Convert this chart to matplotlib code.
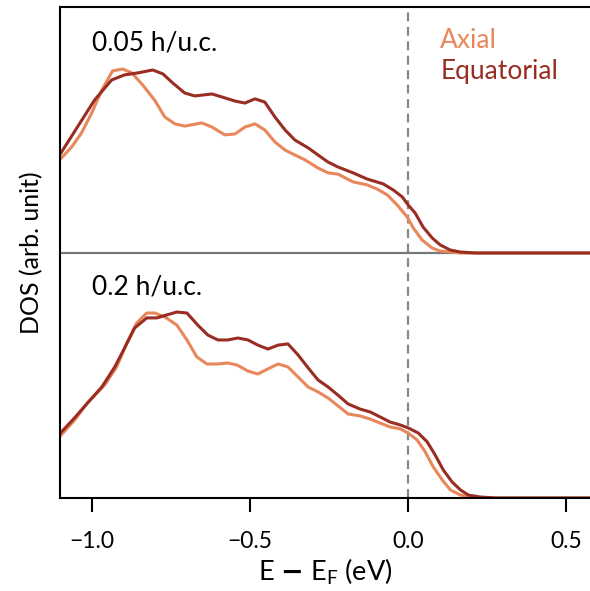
import numpy as np
import matplotlib
matplotlib.use('Agg')
import matplotlib.pyplot as plt

plt.rcParams['font.family'] = ['Lato', 'DejaVu Sans']
plt.rcParams['mathtext.fontset'] = 'custom'
plt.rcParams['mathtext.rm'] = 'Lato'
plt.rcParams['axes.unicode_minus'] = True

# 0.05 h/u.c. (upper panel)
e_eq_05 = [-1.101, -0.991, -0.937, -0.896, -0.854, -0.807, -0.775, -0.744, -0.706, -0.674,
           -0.620, -0.589, -0.547, -0.516, -0.484, -0.453, -0.421, -0.389, -0.358, -0.316,
           -0.285, -0.253, -0.222, -0.174, -0.130, -0.079, -0.047, -0.019, 0.000, 0.022,
           0.047, 0.076, 0.101, 0.133, 0.165, 0.212, 0.58]
dos_eq_05 = [0.400, 0.624, 0.706, 0.727, 0.735, 0.747, 0.731, 0.694, 0.653, 0.641,
             0.649, 0.637, 0.620, 0.612, 0.629, 0.616, 0.555, 0.502, 0.461, 0.429,
             0.400, 0.371, 0.351, 0.327, 0.302, 0.282, 0.257, 0.229, 0.196, 0.163,
             0.106, 0.061, 0.033, 0.012, 0.004, 0.0, 0.0]

e_ax_05 = [-1.101, -1.063, -1.032, -1.000, -0.968, -0.934, -0.902, -0.873, -0.839, -0.801,
           -0.769, -0.737, -0.706, -0.652, -0.620, -0.579, -0.547, -0.516, -0.484, -0.453,
           -0.421, -0.389, -0.358, -0.326, -0.285, -0.253, -0.222, -0.174, -0.130, -0.098,
           -0.066, -0.035, -0.003, 0.016, 0.044, 0.076, 0.101, 0.133, 0.165, 0.58]
dos_ax_05 = [0.380, 0.433, 0.490, 0.571, 0.665, 0.743, 0.751, 0.735, 0.686, 0.624,
             0.555, 0.527, 0.518, 0.531, 0.514, 0.482, 0.486, 0.514, 0.527, 0.502,
             0.453, 0.420, 0.400, 0.380, 0.347, 0.327, 0.322, 0.290, 0.278, 0.261,
             0.237, 0.196, 0.147, 0.102, 0.053, 0.020, 0.008, 0.004, 0.0, 0.0]

# 0.2 h/u.c. (lower panel)
e_eq_2 = [-1.101, -1.054, -1.013, -0.968, -0.927, -0.896, -0.864, -0.826, -0.794, -0.763,
          -0.731, -0.699, -0.665, -0.633, -0.601, -0.570, -0.538, -0.506, -0.475, -0.443,
          -0.411, -0.380, -0.348, -0.316, -0.285, -0.253, -0.222, -0.190, -0.152, -0.120,
          -0.089, -0.057, -0.025, 0.000, 0.032, 0.060, 0.085, 0.111, 0.139, 0.165,
          0.190, 0.228, 0.275, 0.58]
dos_eq_2 = [0.262, 0.327, 0.388, 0.453, 0.535, 0.612, 0.694, 0.735, 0.735, 0.747,
            0.759, 0.755, 0.706, 0.665, 0.645, 0.645, 0.653, 0.645, 0.624, 0.608,
            0.624, 0.629, 0.584, 0.531, 0.482, 0.453, 0.420, 0.384, 0.363, 0.351,
            0.331, 0.310, 0.298, 0.286, 0.265, 0.229, 0.176, 0.114, 0.065, 0.033,
            0.012, 0.004, 0.0, 0.0]

e_ax_2 = [-1.101, -1.054, -1.013, -0.959, -0.921, -0.889, -0.858, -0.826, -0.801, -0.769,
          -0.731, -0.699, -0.668, -0.636, -0.601, -0.570, -0.541, -0.506, -0.475, -0.443,
          -0.411, -0.380, -0.348, -0.316, -0.285, -0.253, -0.209, -0.190, -0.152, -0.120,
          -0.089, -0.057, -0.025, 0.000, 0.028, 0.054, 0.079, 0.108, 0.133, 0.165,
          0.196, 0.228, 0.58]
dos_ax_2 = [0.250, 0.318, 0.388, 0.461, 0.535, 0.633, 0.714, 0.755, 0.755, 0.739,
            0.706, 0.645, 0.576, 0.547, 0.547, 0.551, 0.543, 0.518, 0.506, 0.527,
            0.547, 0.535, 0.494, 0.453, 0.433, 0.408, 0.363, 0.343, 0.335, 0.322,
            0.306, 0.290, 0.282, 0.265, 0.237, 0.188, 0.127, 0.073, 0.033, 0.012,
            0.004, 0.0, 0.0]

offset = 1.0
c_ax = '#E8875A'
c_eq = '#992D22'

fig = plt.figure(figsize=(5.9, 5.91), dpi=100)
ax = fig.add_axes([60 / 590, 1 - 498 / 591, 1 - 60 / 590 + 0.002, (498 - 7) / 591])

ax.plot(e_ax_05, np.array(dos_ax_05) + offset, color=c_ax, lw=2.2)
ax.plot(e_eq_05, np.array(dos_eq_05) + offset, color=c_eq, lw=2.2)
ax.plot(e_ax_2, dos_ax_2, color=c_ax, lw=2.2)
ax.plot(e_eq_2, dos_eq_2, color=c_eq, lw=2.2)

ax.axhline(offset, color='#777777', lw=1.6, zorder=0)
ax.axvline(0.0, color='#888888', lw=1.6, ls=(0, (4, 2.5)), zorder=0)

ax.text(-1.0, 1.857, '0.05 h/u.c.', fontsize=19, va='center', ha='left')
ax.text(-1.0, 0.861, '0.2 h/u.c.', fontsize=19, va='center', ha='left')
ax.text(0.101, 1.869, 'Axial', color=c_ax, fontsize=19, va='center', ha='left')
ax.text(0.101, 1.739, 'Equatorial', color=c_eq, fontsize=19, va='center', ha='left')

ax.set_xlim(-1.1, 0.578)
ax.set_ylim(0, 2.004)
ax.set_yticks([])
ax.set_xticks([-1.0, -0.5, 0.0, 0.5])
ax.set_xticklabels(['\u22121.0', '\u22120.5', '0.0', '0.5'])
ax.tick_params(axis='x', length=10, width=1.5, labelsize=16.5, pad=14)
for s in ax.spines.values():
    s.set_linewidth(1.5)
ax.set_xlabel('E $\\mathbf{-}$ E$_\\mathrm{F}$ (eV)', fontsize=19.5, labelpad=3)
ax.set_ylabel('DOS (arb. unit)', fontsize=18, labelpad=12)

fig.savefig('out.png', dpi=100)
